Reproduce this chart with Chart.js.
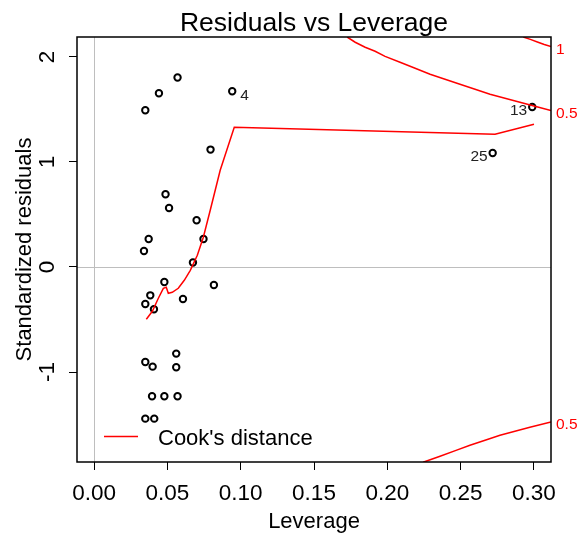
<!DOCTYPE html>
<html>
<head>
<meta charset="utf-8">
<title>Residuals vs Leverage</title>
<script src="https://cdn.jsdelivr.net/npm/chart.js@4.4.1/dist/chart.umd.min.js"></script>
<style>
body { margin: 0; background: #fff; }
canvas { display: block; }
</style>
</head>
<body>
<canvas id="lev" width="579" height="534"></canvas>
<script>
// fitted model diagnostics
var leverage = [0.0349, 0.0442, 0.0569, 0.0942, 0.0794, 0.0487, 0.0511, 0.0699, 0.0372, 0.0746,
                0.0340, 0.0674, 0.0479, 0.0817, 0.0383, 0.0349, 0.0606, 0.0408, 0.0560, 0.0349,
                0.0399, 0.0560, 0.0395, 0.0479, 0.0569, 0.0349, 0.0410, 0.2989, 0.2719];
var stdResid = [1.492, 1.654, 1.804, 1.673, 1.118, 0.692, 0.562, 0.445, 0.267, 0.267,
                0.152, 0.042, -0.143, -0.171, -0.270, -0.352, -0.305, -0.403, -0.825, -0.905,
                -0.949, -0.955, -1.231, -1.231, -1.231, -1.444, -1.444, 1.524, 1.086];
var labelText = ['4', '13', '25'];
var labelAt = [3, 27, 28];

// smoother
var smoothX = [0.0356, 0.0397, 0.0438, 0.0472, 0.0492, 0.0506, 0.0533, 0.0574, 0.0615, 0.0656,
               0.0704, 0.0745, 0.0792, 0.0860, 0.0956, 0.2735, 0.3001];
var smoothY = [-0.498, -0.422, -0.298, -0.203, -0.193, -0.250, -0.241, -0.203, -0.127, -0.032,
               0.111, 0.283, 0.540, 0.921, 1.330, 1.264, 1.359];

// Cook's distance contours
var cookUp05X = [0.1726, 0.1781, 0.1849, 0.1917, 0.1985, 0.2087, 0.2190, 0.2292, 0.2394, 0.2496,
                 0.2599, 0.2701, 0.2803, 0.2905, 0.3007, 0.3117];
var cookUp05Y = [2.190, 2.140, 2.092, 2.054, 2.006, 1.950, 1.893, 1.835, 1.788, 1.740,
                 1.693, 1.645, 1.607, 1.569, 1.531, 1.490];
var cookUp1X = [0.2928, 0.2976, 0.3024, 0.3071, 0.3117];
var cookUp1Y = [2.190, 2.167, 2.143, 2.119, 2.100];
var cookLo05X = [0.2244, 0.2360, 0.2469, 0.2564, 0.2667, 0.2769, 0.2871, 0.2973, 0.3117];
var cookLo05Y = [-1.860, -1.803, -1.746, -1.698, -1.650, -1.603, -1.565, -1.527, -1.476];
var cookLevels = ['1', '0.5', '0.5'];

var xTicks = [0, 0.05, 0.10, 0.15, 0.20, 0.25, 0.30];
var yTicks = [-1, 0, 1, 2];

var FONT = '"Liberation Sans", Arial, sans-serif';

function pts(xs, ys) {
	var out = [];
	for (var i in xs) {
		out.push({x: xs[i], y: ys[i]});
	}
	return out;
}

function redLine(xs, ys) {
	return {
		data: pts(xs, ys),
		showLine: true,
		borderColor: '#ff0000',
		borderWidth: 1.5,
		pointRadius: 0,
		fill: false,
		tension: 0
	};
}

// axes, frame, labels and legend in base-graphics style
var frame = {
	id: 'frame',
	beforeDatasetsDraw: function(chart) {
		var ctx = chart.ctx, a = chart.chartArea;
		var x0 = Math.round(chart.scales.x.getPixelForValue(0)) + 0.5;
		var y0 = Math.round(chart.scales.y.getPixelForValue(0)) + 0.5;
		ctx.save();
		ctx.strokeStyle = '#bebebe';
		ctx.lineWidth = 1;
		ctx.beginPath();
		ctx.moveTo(x0, a.top); ctx.lineTo(x0, a.bottom);
		ctx.moveTo(a.left, y0); ctx.lineTo(a.right, y0);
		ctx.stroke();
		ctx.restore();
	},
	afterDraw: function(chart) {
		var ctx = chart.ctx, a = chart.chartArea;
		var xs = chart.scales.x, ys = chart.scales.y;
		ctx.save();
		ctx.strokeStyle = '#000';
		ctx.lineWidth = 1.5;
		ctx.strokeRect(a.left, a.top, a.right - a.left, a.bottom - a.top);

		ctx.fillStyle = '#000';
		ctx.font = '26.5px ' + FONT;
		ctx.textAlign = 'center';
		ctx.textBaseline = 'alphabetic';
		ctx.fillText('Residuals vs Leverage', (a.left + a.right) / 2, 31);

		ctx.font = '22.5px ' + FONT;
		for (var i in xTicks) {
			ctx.fillText(xTicks[i].toFixed(2), xs.getPixelForValue(xTicks[i]), 500);
		}
		ctx.font = '22px ' + FONT;
		ctx.fillText('Leverage', (a.left + a.right) / 2, 528);

		ctx.font = '22.5px ' + FONT;
		for (var j in yTicks) {
			ctx.save();
			ctx.translate(54, ys.getPixelForValue(yTicks[j]));
			ctx.rotate(-Math.PI / 2);
			ctx.fillText(String(yTicks[j]), 0, 0);
			ctx.restore();
		}
		ctx.font = '22px ' + FONT;
		ctx.save();
		ctx.translate(31, (a.top + a.bottom) / 2);
		ctx.rotate(-Math.PI / 2);
		ctx.fillText('Standardized residuals', 0, 0);
		ctx.restore();

		// labels for the most extreme points
		ctx.font = '15.5px ' + FONT;
		ctx.fillStyle = '#222';
		ctx.textBaseline = 'middle';
		var mid = (xs.min + xs.max) / 2;
		for (var k in labelText) {
			var n = labelAt[k];
			var px = xs.getPixelForValue(leverage[n]);
			var py = ys.getPixelForValue(stdResid[n]) + 4;
			if (leverage[n] < mid) {
				ctx.textAlign = 'left';
				ctx.fillText(labelText[k], px + 8, py);
			} else {
				ctx.textAlign = 'right';
				ctx.fillText(labelText[k], px - 5, py);
			}
		}

		// contour levels in the right margin
		ctx.fillStyle = '#ff0000';
		ctx.textAlign = 'left';
		var ends = [cookUp1Y[cookUp1Y.length - 1], cookUp05Y[cookUp05Y.length - 1], cookLo05Y[cookLo05Y.length - 1]];
		for (var m in cookLevels) {
			ctx.fillText(cookLevels[m], a.right + 5, ys.getPixelForValue(ends[m]) + 3);
		}

		// legend
		ctx.strokeStyle = '#ff0000';
		ctx.lineWidth = 1.5;
		ctx.beginPath();
		ctx.moveTo(104, 436.5);
		ctx.lineTo(138, 436.5);
		ctx.stroke();
		ctx.fillStyle = '#000';
		ctx.font = '22px ' + FONT;
		ctx.textBaseline = 'alphabetic';
		ctx.fillText("Cook's distance", 158, 445);
		ctx.restore();
	}
};

var ctx = document.getElementById('lev');

var levChart = new Chart(ctx, {
	type: 'scatter',
	data: {
		datasets: [
			redLine(smoothX, smoothY),
			redLine(cookUp05X, cookUp05Y),
			redLine(cookUp1X, cookUp1Y),
			redLine(cookLo05X, cookLo05Y),
			{
				data: pts(leverage, stdResid),
				pointRadius: 3.2,
				pointBorderWidth: 2,
				pointBorderColor: '#000',
				pointBackgroundColor: 'rgba(0,0,0,0)',
				showLine: false
			}
		]
	},
	options: {
		responsive: false,
		devicePixelRatio: 1,
		animation: false,
		events: [],
		layout: { padding: { top: 37, right: 28, left: 0, bottom: 0 } },
		plugins: {
			legend: { display: false },
			tooltip: { enabled: false },
			title: { display: false }
		},
		scales: {
			x: {
				type: 'linear',
				min: -0.0117,
				max: 0.3117,
				afterBuildTicks: function(scale) {
					scale.ticks = xTicks.map(function(v) { return {value: v}; });
				},
				afterFit: function(scale) { scale.height = 72; },
				ticks: { display: false },
				border: { display: false },
				grid: { drawOnChartArea: false, drawTicks: true, tickLength: 8, color: '#000', lineWidth: 1 }
			},
			y: {
				type: 'linear',
				min: -1.857,
				max: 2.19,
				afterBuildTicks: function(scale) {
					scale.ticks = yTicks.map(function(v) { return {value: v}; });
				},
				afterFit: function(scale) { scale.width = 77; },
				ticks: { display: false },
				border: { display: false },
				grid: { drawOnChartArea: false, drawTicks: true, tickLength: 8, color: '#000', lineWidth: 1 }
			}
		}
	},
	plugins: [frame]
});
</script>
</body>
</html>
